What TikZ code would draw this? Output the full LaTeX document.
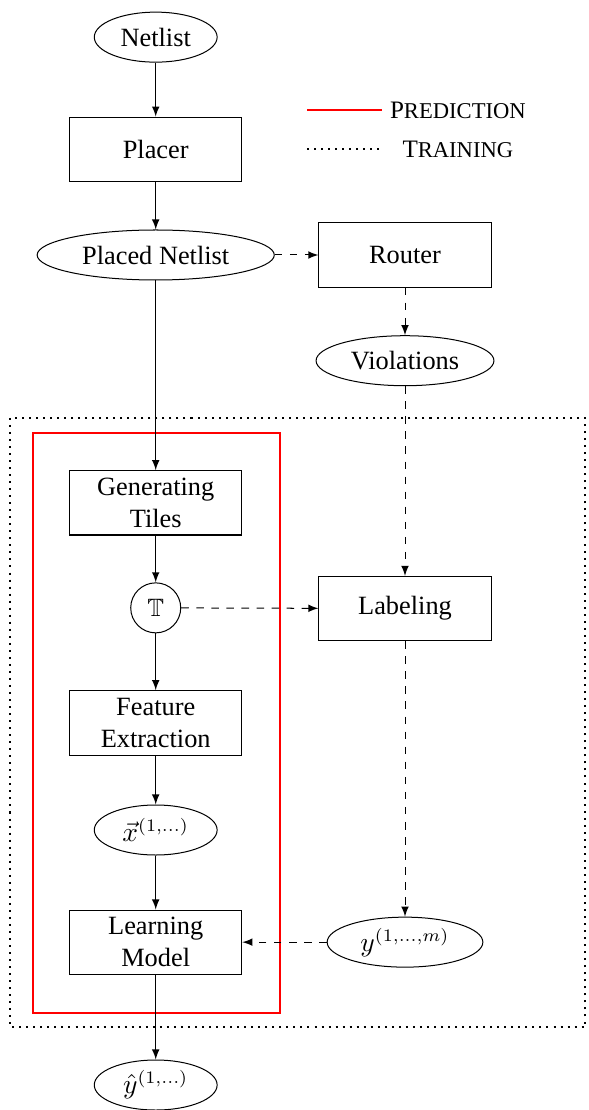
\documentclass[tikz,border=0pt]{standalone}
\usepackage{amsmath}
\usepackage{amssymb}
\usepackage{fontspec}
\setmainfont{Liberation Serif}
\usetikzlibrary{shapes,arrows,positioning,calc}
\usetikzlibrary{shapes.geometric}

\tikzset{
	procbox/.style={draw,rectangle,minimum width=2.41cm,minimum height=0.9cm,align=center,inner sep=1pt,font=\fontsize{10.5pt}{12.6pt}\selectfont},
	dataoval/.style={draw,ellipse,minimum width=1.72cm,minimum height=0.7cm,inner sep=1pt,font=\fontsize{10.5pt}{12.6pt}\selectfont},
	flow/.style={->,>=latex},
	trainflow/.style={->,>=latex,dashed}
}

\begin{document}
\begin{tikzpicture}[transform shape,scale=1]
		\useasboundingbox (0,0) rectangle (8.246,-15.54);
		% prediction path
		\node[dataoval] (netlist) at (2.18,-0.52) {Netlist};
		\node[procbox] (placer) at (2.18,-2.09) {Placer};
		\node[dataoval,minimum width=3.32cm] (placed) at (2.18,-3.57) {Placed Netlist};
		\node[procbox] (tiles) at (2.18,-7.04) {Generating\\Tiles};
		\node[draw,circle,minimum size=0.7cm,inner sep=0pt] (tset) at (2.18,-8.51) {$\mathbb{T}$};
		\node[procbox] (feat) at (2.18,-10.12) {Feature\\Extraction};
		\node[dataoval] (xvec) at (2.18,-11.62) {$\vec{x}^{(1,\ldots)}$};
		\node[procbox] (model) at (2.18,-13.19) {Learning\\Model};
		\node[dataoval] (yhat) at (2.18,-15.19) {$\hat{y}^{(1,\ldots)}$};
		% training path
		\node[procbox] (router) at (5.67,-3.57) {Router};
		\node[dataoval,minimum width=2.49cm] (viol) at (5.67,-5.05) {Violations};
		\node[procbox] (label) at (5.67,-8.52) {Labeling};
		\node[dataoval,minimum width=2.18cm] (ylab) at (5.67,-13.19) {$y^{(1,\ldots,m)}$};
		% frames
		\draw[thick,dotted] (0.14,-5.85) rectangle (8.19,-14.38);
		\draw[thick,red] (0.46,-6.06) rectangle (3.92,-14.18);
		% legend
		\coordinate (predA) at (4.30,-1.54);
		\coordinate (predB) at (5.35,-1.54);
		\coordinate (trainA) at (4.30,-2.09);
		\coordinate (trainB) at (5.35,-2.09);
		\draw[thick,red] (predA)--(predB);
		\draw[thick,dotted] (trainA)--(trainB);
		\node (predtxt) at (6.41,-1.54) {P{\small REDICTION}};
		\node (traintxt) at (6.41,-2.09) {T{\small RAINING}};
		% connectors
		\draw[flow] (netlist)--(placer);
		\draw[flow] (placer)--(placed);
		\draw[flow] (placed)--(tiles);
		\draw[flow] (tiles)--(tset);
		\draw[flow] (tset)--(feat);
		\draw[flow] (feat)--(xvec);
		\draw[flow] (xvec)--(model);
		\draw[flow] (model)--(yhat);
		\draw[trainflow] (placed)--(router);
		\draw[trainflow] (router)--(viol);
		\draw[trainflow] (viol)--(label);
		\draw[trainflow] (tset)--(label);
		\draw[trainflow] (label)--(ylab);
		\draw[trainflow] (ylab)--(model);
	\end{tikzpicture}
\end{document}
